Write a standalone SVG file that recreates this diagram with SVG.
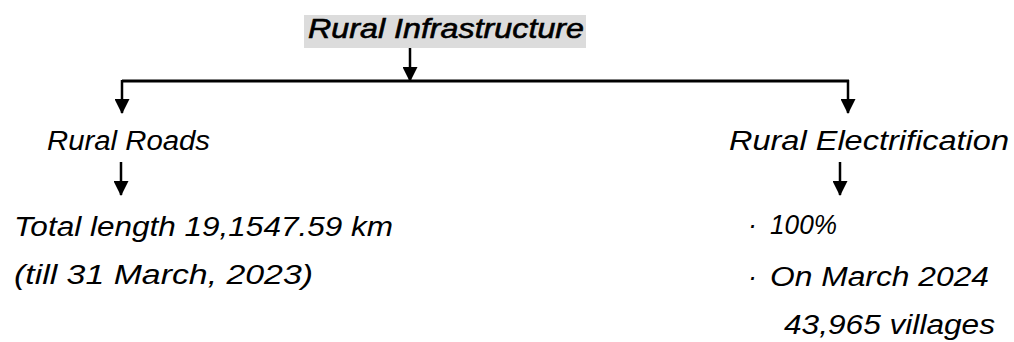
<svg xmlns="http://www.w3.org/2000/svg" width="1014" height="342" viewBox="0 0 1014 342">
  <style>
    .t { font-family: "Liberation Sans", "DejaVu Sans", sans-serif; font-style: italic; font-size: 27px; fill: #000; }
    .title { stroke: #000; stroke-width: 0.6; }
    .c { stroke: #000; stroke-width: 3; fill: none; }
    .a { stroke: #000; stroke-width: 2.5; fill: none; marker-end: url(#ah); }
  </style>
  <defs>
    <marker id="ah" markerUnits="userSpaceOnUse" markerWidth="15" markerHeight="15" refX="14" refY="7.5" orient="auto">
      <path d="M0,0 L15,7.5 L0,15 z" fill="#000"/>
    </marker>
  </defs>
  <rect width="1014" height="342" fill="#fff"/>

  <g id="connectors">
    <line class="a" x1="410" y1="48" x2="410" y2="81"/>
    <line class="c" x1="122" y1="81" x2="849" y2="81"/>
    <line class="a" x1="122" y1="80" x2="122" y2="113"/>
    <line class="a" x1="848" y1="80" x2="848" y2="113"/>
    <line class="a" x1="121" y1="162" x2="121" y2="195"/>
    <line class="a" x1="840" y1="162" x2="840" y2="195"/>
  </g>

  <g id="root">
    <rect x="304" y="15" width="282" height="33" fill="#dcdcdc"/>
    <text class="t title" x="308" y="38" textLength="276" lengthAdjust="spacingAndGlyphs">Rural Infrastructure</text>
  </g>

  <g id="rural-roads">
    <text class="t" x="47" y="150" textLength="163" lengthAdjust="spacingAndGlyphs">Rural Roads</text>
  </g>

  <g id="rural-electrification">
    <text class="t" x="729" y="150" textLength="280" lengthAdjust="spacingAndGlyphs">Rural Electrification</text>
  </g>

  <g id="roads-detail">
    <text class="t" x="14" y="236" textLength="379" lengthAdjust="spacingAndGlyphs">Total length 19,1547.59 km</text>
    <text class="t" x="14" y="284" textLength="299" lengthAdjust="spacingAndGlyphs">(till 31 March, 2023)</text>
  </g>

  <g id="electrification-detail">
    <text class="t" y="234"><tspan x="748">·</tspan><tspan x="770" textLength="67" lengthAdjust="spacingAndGlyphs">100%</tspan></text>
    <text class="t" y="286"><tspan x="748">·</tspan><tspan x="770" textLength="219" lengthAdjust="spacingAndGlyphs">On March 2024</tspan></text>
    <text class="t" x="784" y="334" textLength="211" lengthAdjust="spacingAndGlyphs">43,965 villages</text>
  </g>
</svg>
